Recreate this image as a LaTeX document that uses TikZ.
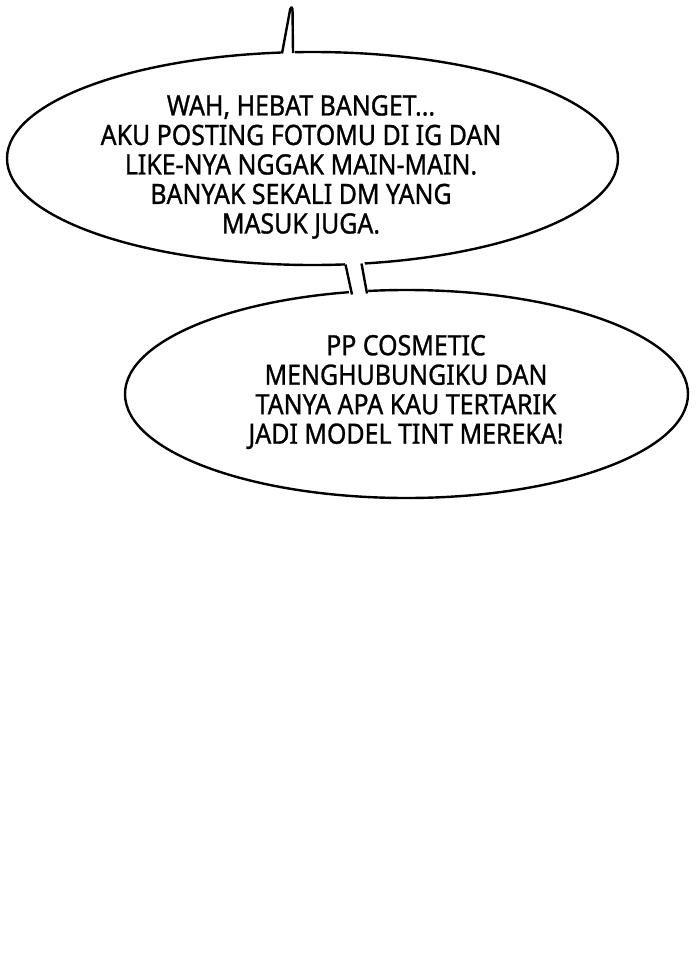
\documentclass[tikz,border=0pt]{standalone}
\usepackage{fontspec}
\setmainfont{Noto Sans}[FakeStretch=0.89,FakeBold=1]
\usetikzlibrary{shapes.geometric}
\tikzset{
	bubble/.style={ellipse,draw,line width=2.4pt,fill=white,inner sep=0pt},
	speech/.style={align=center,font=\fontsize{28}{29.5}\selectfont}
}
\begin{document}
\begin{tikzpicture}[x=1pt,y=-1pt]
\useasboundingbox (0,0) rectangle (700,972);

\node[bubble,minimum width=611pt,minimum height=213pt] (wah) at (312.5,158.5){};
\node[bubble,minimum width=563pt,minimum height=208pt] (pp) at (406.5,394){};

% tail on top
\fill[white] (280,57)--(291,5)--(295,57)--cycle;
\draw[line width=2.4pt,line join=round,rounded corners=1.5pt] (282,53.5)--(290.5,7.5)--(292.5,7.5)--(293,53);

% link between the two bubbles
\fill[white] (344,258)--(364,258)--(369,298)--(350,298)--cycle;
\draw[line width=2.4pt] (345.5,264.5)--(352,294.5);
\draw[line width=2.4pt] (361.5,263.5)--(367,293.5);

\node[speech] (wahtext) at (301,167){WAH, HEBAT BANGET...\\AKU POSTING FOTOMU DI IG DAN\\LIKE-NYA NGGAK MAIN-MAIN.\\BANYAK SEKALI DM YANG\\MASUK JUGA.};
\node[speech] (pptext) at (406,392){PP COSMETIC\\MENGHUBUNGIKU DAN\\TANYA APA KAU TERTARIK\\JADI MODEL TINT MEREKA!};

\end{tikzpicture}
\end{document}
